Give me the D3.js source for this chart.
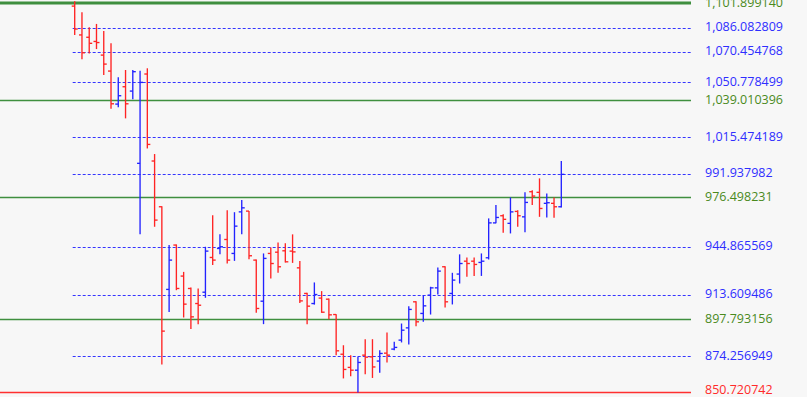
<!DOCTYPE html>
<html>
<head>
<meta charset="utf-8">
<script src="https://cdnjs.cloudflare.com/ajax/libs/d3/7.8.5/d3.min.js"></script>
<style>
    html, body { margin: 0; padding: 0; background: #f7f7f7; }
    svg { display: block; }
</style>
</head>
<body>
<svg id="chart"></svg>
<script>
// price levels drawn across the chart
const majorLevels = [1101.899140, 1039.010396, 976.498231, 897.793156];
const minorLevels = [1086.082809, 1070.454768, 1050.778499, 1015.474189, 991.937982, 944.865569, 913.609486, 874.256949];
const baseLevels = [850.720742];

// OHLC bars, oldest first
const opens = [
    1099.9, 1081.3, 1079.8, 1077.1, 1068.3, 1058.0, 1036.7, 1047.9, 1045.1, 998.5,
    1056.1, 1000.0, 970.5, 917.2, 945.8, 925.8, 917.8, 908.1, 915.4, 937.8,
    943.6, 949.4, 940.4, 967.2, 967.7, 936.1, 909.6, 940.4, 941.2, 942.1,
    941.9, 931.1, 914.6, 908.1, 911.6, 910.9, 901.0, 875.4, 866.9, 865.1,
    874.8, 873.7, 871.0, 876.1, 878.7, 884.5, 892.4, 909.2, 901.7, 913.5,
    918.2, 931.8, 914.6, 927.1, 935.4, 935.4, 934.6, 937.6, 960.1, 964.7,
    959.8, 967.5, 964.0, 980.2, 979.8, 972.7, 972.7, 970.5
];
const highs = [
    1103.0, 1095.9, 1086.2, 1088.4, 1083.8, 1075.9, 1054.0, 1058.7, 1058.7, 1058.2,
    1059.8, 1004.5, 970.9, 945.8, 946.2, 928.5, 918.5, 917.8, 944.7, 965.1,
    952.7, 968.3, 967.0, 974.8, 967.7, 936.5, 940.4, 944.3, 947.5, 946.9,
    952.7, 935.6, 915.0, 921.7, 916.1, 911.4, 901.2, 881.2, 874.8, 873.7,
    885.1, 885.1, 878.0, 889.4, 883.4, 895.2, 906.4, 909.6, 913.5, 918.9,
    931.4, 932.2, 927.9, 939.8, 937.8, 937.8, 940.4, 963.0, 971.6, 965.6,
    976.5, 968.3, 979.8, 981.2, 988.8, 979.1, 976.5, 1000.0
];
const lows = [
    1081.2, 1065.6, 1069.4, 1072.2, 1055.4, 1033.7, 1034.6, 1027.5, 1039.8, 952.7,
    1008.1, 957.6, 868.8, 902.7, 916.7, 899.1, 891.6, 894.8, 911.8, 932.9,
    939.8, 933.9, 935.6, 952.7, 936.7, 902.1, 894.8, 924.3, 927.9, 934.6,
    934.3, 908.5, 894.8, 907.4, 902.1, 898.0, 874.8, 859.8, 861.2, 850.7,
    862.5, 860.1, 863.4, 870.1, 878.0, 883.0, 881.7, 893.5, 896.3, 901.0,
    913.9, 905.6, 907.5, 921.0, 925.3, 925.9, 925.9, 936.5, 959.8, 953.7,
    953.3, 957.6, 954.1, 971.6, 964.0, 963.6, 963.4, 970.1
];
const closes = [
    1085.1, 1069.8, 1075.9, 1076.4, 1062.5, 1036.9, 1042.1, 1036.9, 1057.6, 1050.7,
    1010.7, 961.9, 890.3, 936.1, 917.8, 907.7, 899.5, 907.0, 941.9, 936.1,
    944.7, 936.1, 958.0, 969.8, 938.9, 904.9, 937.2, 933.9, 931.8, 935.0,
    941.4, 909.8, 906.4, 913.9, 902.5, 900.8, 877.6, 865.6, 865.1, 870.1,
    873.5, 867.2, 875.9, 874.8, 879.8, 890.9, 904.3, 896.3, 906.6, 918.2,
    929.0, 909.2, 923.2, 933.9, 933.9, 933.3, 935.4, 960.1, 963.6, 962.4,
    967.2, 964.7, 973.3, 977.4, 969.4, 973.1, 970.5, 991.4
];

const width = 807;
const height = 397;
const lineEnd = 691; // px, where the level lines stop
const labelX = 705;
const tick = 3;

const upColor = '#2323ff';
const downColor = '#ff2424';
const majorColor = '#3f8f3f';
const majorText = '#4a8a1c';

const bars = opens.map(function(o, i) {
    return { i: i, open: o, high: highs[i], low: lows[i], close: closes[i] };
});

var svg = d3.select('#chart')
    .attr('width', width)
    .attr('height', height);

svg.append('rect')
    .attr('width', width)
    .attr('height', height)
    .attr('fill', '#f7f7f7');

var x = d3.scaleLinear()
    .domain([0, bars.length - 1])
    .range([74.7, 561.3]);

var y = d3.scaleLinear()
    .domain([baseLevels[0], majorLevels[0]])
    .range([392.5, 3]);

// snap level lines to the pixel grid so they stay crisp
const crisp = v => Math.round(y(v)) + 0.5;

var fmt = d3.format(',.6f');

// dashed levels start at the first bar, solid ones span the whole width
svg.append('g')
    .selectAll('line')
    .data(minorLevels)
    .join('line')
    .attr('x1', x(0) - 2)
    .attr('x2', lineEnd)
    .attr('y1', crisp)
    .attr('y2', crisp)
    .attr('stroke', '#3535ff')
    .attr('stroke-width', 1)
    .attr('stroke-dasharray', '3,2');

svg.append('g')
    .selectAll('line')
    .data(majorLevels)
    .join('line')
    .attr('x1', 0)
    .attr('x2', lineEnd)
    .attr('y1', d => y(d))
    .attr('y2', d => y(d))
    .attr('stroke', majorColor)
    .attr('stroke-width', (d, i) => i === 0 ? 3 : 1.6);

svg.append('g')
    .selectAll('line')
    .data(baseLevels)
    .join('line')
    .attr('x1', 0)
    .attr('x2', lineEnd)
    .attr('y1', d => y(d))
    .attr('y2', d => y(d))
    .attr('stroke', '#ff3030')
    .attr('stroke-width', 1.6);

// OHLC bars
var g = svg.append('g')
    .selectAll('g')
    .data(bars)
    .join('g')
    .attr('stroke', d => d.close >= d.open ? upColor : downColor)
    .attr('stroke-width', 1.35);

g.append('line')
    .attr('x1', d => x(d.i))
    .attr('x2', d => x(d.i))
    .attr('y1', d => y(d.high))
    .attr('y2', d => y(d.low));

g.append('line')
    .attr('x1', d => x(d.i) - tick)
    .attr('x2', d => x(d.i))
    .attr('y1', d => y(d.open))
    .attr('y2', d => y(d.open));

g.append('line')
    .attr('x1', d => x(d.i))
    .attr('x2', d => x(d.i) + tick)
    .attr('y1', d => y(d.close))
    .attr('y2', d => y(d.close));

// level labels on the right
const labels = []
    .concat(majorLevels.map(v => ({ v: v, c: majorText })))
    .concat(minorLevels.map(v => ({ v: v, c: '#2e2eff' })))
    .concat(baseLevels.map(v => ({ v: v, c: '#ff2a2a' })));

svg.append('g')
    .selectAll('text')
    .data(labels)
    .join('text')
    .attr('x', labelX)
    .attr('y', d => Math.min(y(d.v) + 3.5, 394))
    .attr('fill', d => d.c)
    .style('font-family', '"Open Sans", "Noto Sans", sans-serif')
    .style('font-size', '12.5px')
    .text(d => fmt(d.v));
</script>
</body>
</html>
